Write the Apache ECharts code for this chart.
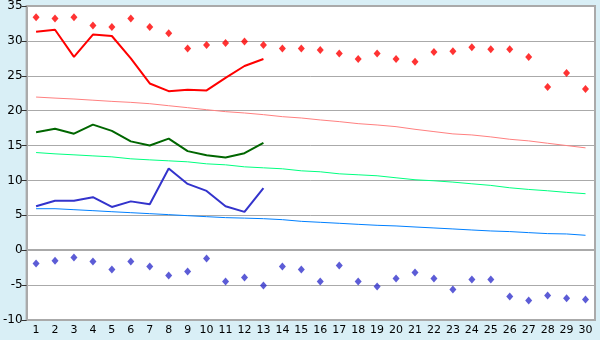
<!DOCTYPE html>
<html><head><meta charset="utf-8">
<script src="https://cdn.jsdelivr.net/npm/echarts@6/dist/echarts.min.js"></script>
<style>html,body{margin:0;padding:0;background:#d9eff6;}#c{width:600px;height:340px;}</style>
</head><body><div id="c"></div>
<script>
var days = [1,2,3,4,5,6,7,8,9,10,11,12,13,14,15,16,17,18,19,20,21,22,23,24,25,26,27,28,29,30];
var maxTemp = [31.3,31.6,27.7,30.9,30.7,27.5,23.9,22.8,23.0,22.9,24.7,26.4,27.4];
var meanTemp = [16.9,17.4,16.7,18.0,17.1,15.6,15.0,16.0,14.2,13.6,13.3,13.9,15.4];
var minTemp = [6.3,7.1,7.1,7.6,6.2,7.0,6.6,11.7,9.5,8.5,6.3,5.5,8.9];
var recordHigh = [33.4,33.2,33.4,32.2,32.0,33.2,32.0,31.1,28.9,29.4,29.7,29.9,29.4,28.9,28.9,28.7,28.2,27.4,28.2,27.4,27.0,28.4,28.5,29.1,28.8,28.8,27.7,23.4,25.4,23.1];
var normalHigh = [21.95,21.8,21.67,21.5,21.33,21.19,21.0,20.71,20.43,20.14,19.86,19.67,19.43,19.14,18.95,18.67,18.43,18.14,17.95,17.71,17.33,17.0,16.67,16.52,16.24,15.9,15.67,15.33,15.0,14.67];
var normalMean = [14.0,13.81,13.67,13.52,13.38,13.1,12.95,12.81,12.67,12.38,12.24,11.95,11.81,11.67,11.38,11.24,10.95,10.81,10.67,10.38,10.1,9.95,9.76,9.52,9.29,8.95,8.71,8.52,8.29,8.1];
var normalLow = [5.95,5.95,5.81,5.67,5.52,5.38,5.24,5.1,4.95,4.81,4.67,4.6,4.52,4.38,4.14,4.0,3.86,3.71,3.57,3.48,3.33,3.19,3.05,2.9,2.76,2.67,2.52,2.38,2.33,2.14];
var recordLow = [-1.9,-1.5,-1.05,-1.6,-2.76,-1.6,-2.33,-3.62,-3.05,-1.19,-4.48,-3.9,-5.05,-2.33,-2.76,-4.48,-2.19,-4.48,-5.19,-4.05,-3.19,-4.05,-5.62,-4.19,-4.19,-6.62,-7.19,-6.48,-6.9,-7.05];
var yMin = -10, yMax = 35, yStep = 5;

var chart = echarts.init(document.getElementById('c'), null, {renderer:'canvas'});
function lineS(data, color, width, z){
  return {type:'line', data:data, symbol:'none', lineStyle:{color:color, width:width}, itemStyle:{color:color}, z:z, animation:false};
}
function dotS(data, color){
  return {type:'scatter', data:data, symbol:'diamond', symbolSize:[7,8], itemStyle:{color:color}, z:5, animation:false};
}
chart.setOption({
  backgroundColor:'#d9eff6',
  animation:false,
  grid:{left:26, right:5, top:5, bottom:20, show:true, backgroundColor:'#ffffff', borderColor:'#aaaaaa', borderWidth:2},
  xAxis:{type:'category', data:days, boundaryGap:true,
    axisLine:{lineStyle:{color:'#aaaaaa', width:2}},
    axisTick:{alignWithLabel:true, length:5, lineStyle:{color:'#333'}},
    axisLabel:{color:'#000', fontFamily:'DejaVu Sans', fontSize:11, margin:5, interval:0},
    splitLine:{show:false}},
  yAxis:{type:'value', min:yMin, max:yMax, interval:yStep,
    axisLine:{show:true, lineStyle:{color:'#aaaaaa', width:2}},
    axisTick:{show:true, length:5, lineStyle:{color:'#333'}},
    axisLabel:{color:'#000', fontFamily:'DejaVu Sans', fontSize:12, margin:4},
    splitLine:{lineStyle:{color:'#aaaaaa', width:1}}},
  series:[
    lineS(normalHigh, '#ff8080', 1, 2),
    lineS(normalMean, '#00ff80', 1, 2),
    lineS(normalLow, '#0080ff', 1, 2),
    lineS(maxTemp, '#ff0000', 2, 3),
    lineS(meanTemp, '#006600', 2, 3),
    lineS(minTemp, '#3333cc', 2, 3),
    dotS(recordHigh, '#ff0000'),
    dotS(recordLow, '#3333cc')
  ]
});
</script></body></html>
